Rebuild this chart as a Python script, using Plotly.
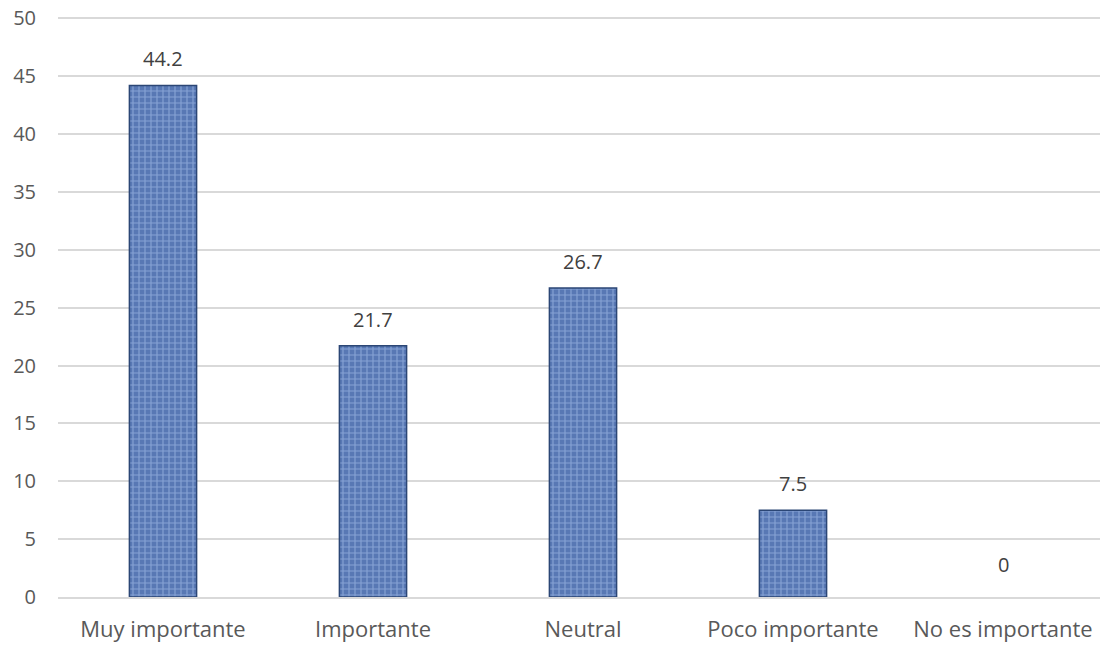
import plotly.graph_objects as go

categories = ["Muy importante", "Importante", "Neutral", "Poco importante", "No es importante"]
values = [44.2, 21.7, 26.7, 7.5, 0]
value_labels = ["44.2", "21.7", "26.7", "7.5", "0"]
y_ticks = [0, 5, 10, 15, 20, 25, 30, 35, 40, 45, 50]

fig = go.Figure()
fig.add_trace(go.Bar(
    x=categories,
    y=values,
    marker=dict(
        color="#6384c2",
        line=dict(color="#2b4675", width=[1.5 if v > 0 else 0 for v in values]),
        pattern=dict(shape="+", fgcolor="#b3cbf2", bgcolor="#5878b4",
                     size=6, solidity=0.35, fillmode="overlay"),
    ),
    hoverinfo="x+y",
))

for c, v, t in zip(categories, values, value_labels):
    fig.add_annotation(x=c, y=v, text=t, showarrow=False, yanchor="bottom",
                       yshift=11 if v > 0 else 17,
                       font=dict(family="Open Sans", size=20, color="#404040"))

fig.update_layout(
    width=1100, height=639,
    margin=dict(l=50, r=0, t=8, b=50),
    paper_bgcolor="white", plot_bgcolor="white",
    bargap=0.68,
    showlegend=False,
    font=dict(family="Open Sans", size=20, color="#595959"),
)
fig.update_xaxes(
    showgrid=False, showline=True, linecolor="#d9d9d9", linewidth=1.5,
    ticks="outside", ticklen=12, tickcolor="rgba(0,0,0,0)",
    tickfont=dict(family="Open Sans", size=22, color="#595959"),
    automargin=False,
)
fig.update_yaxes(
    range=[0, 50.2], tickvals=y_ticks, showgrid=True, gridcolor="#d9d9d9", gridwidth=1.5,
    zeroline=False, showline=False,
    ticks="outside", ticklen=17, tickcolor="rgba(0,0,0,0)",
    tickfont=dict(family="Open Sans", size=20, color="#595959"),
    ticklabeloverflow="allow",
    automargin=False,
)

fig.write_html("out.html")
